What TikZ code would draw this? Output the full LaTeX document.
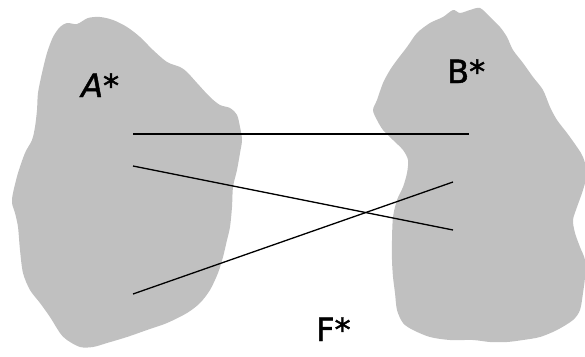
\documentclass[tikz,border=0pt]{standalone}
\usepackage{fontspec}
\newfontfamily\lblfont[FakeBold=1.5]{DejaVu Sans}
\begin{document}
\begin{tikzpicture}[x=1pt,y=-1pt,
  link/.style={draw=black,line width=1.3pt},
  lbl/.style={font=\lblfont\fontsize{32}{32}\selectfont,inner sep=0pt,anchor=base west}]
\definecolor{blobgray}{RGB}{192,192,192}
\useasboundingbox (0,0) rectangle (585,356);
% left blob
\fill[blobgray] plot[smooth cycle,tension=0.5] coordinates {
(60,27) (67,23) (77,24) (88,18) (100,17) (113,20) (127,27) (140,37) (153,50) (167,62) (180,67) (187,72) (197,83) (210,97) (220,105) (230,108) (237,115) (240,127) (242,140) (240,153) (237,170) (233,187) (232,207) (230,227) (227,240) (223,257) (218,273) (210,290) (200,303) (187,313) (167,323) (147,330) (127,337) (107,343) (93,347) (80,347) (67,340) (60,333) (50,317) (40,303) (30,290) (23,273) (20,250) (18,227) (15,213) (12,203) (13,193) (18,173) (25,153) (32,140) (35,127) (37,110) (38,93) (42,73) (47,53) (53,37)};
% right blob
\fill[blobgray] plot[smooth cycle,tension=0.5] coordinates {
(373,110) (377,100) (383,83) (390,70) (397,60) (407,47) (417,33) (430,23) (443,17) (453,10) (460,13) (470,10) (480,8) (490,17) (500,27) (507,37) (513,50) (523,63) (533,77) (543,90) (550,107) (557,120) (567,133) (577,147) (583,157) (587,173) (583,190) (577,207) (573,220) (575,233) (580,247) (585,260) (585,277) (583,293) (580,310) (573,320) (557,330) (540,337) (523,340) (507,342) (490,342) (473,340) (450,340) (430,337) (413,330) (403,323) (397,310) (395,293) (393,277) (392,260) (392,240) (393,217) (397,200) (403,187) (407,173) (408,160) (403,150) (393,140) (383,130) (377,120)};
% labels
\node[lbl] (A) at (81,97) {\itshape A*};
\node[lbl] (B) at (447,83) {B*};
\node[lbl] (F) at (316,341) {F*};
% endpoints
\coordinate (a1) at (133,134);
\coordinate (a2) at (133,166);
\coordinate (a3) at (133,294);
\coordinate (b1) at (469,134);
\coordinate (b2) at (453,182);
\coordinate (b3) at (453,230);
\draw[link] (a1) -- (b1);
\draw[link] (a2) -- (b3);
\draw[link] (a3) -- (b2);
\end{tikzpicture}
\end{document}
